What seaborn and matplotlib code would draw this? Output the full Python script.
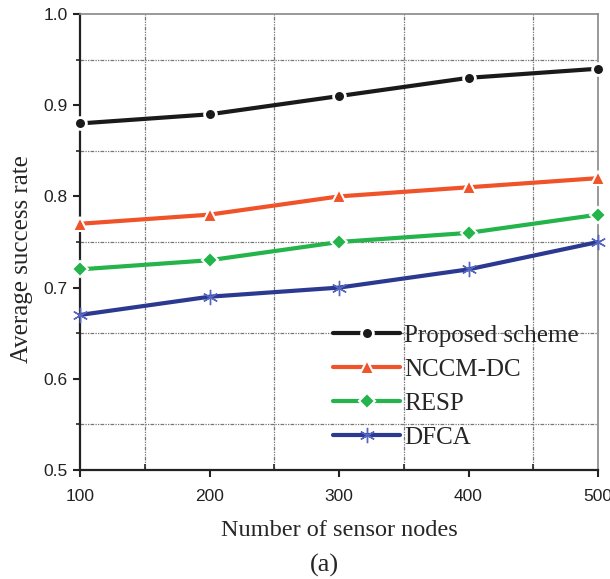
import matplotlib
matplotlib.use("Agg")
import matplotlib.pyplot as plt
import seaborn as sns
import pandas as pd
from matplotlib.ticker import MultipleLocator

nodes = [100, 200, 300, 400, 500]
proposed = [0.88, 0.89, 0.91, 0.93, 0.94]
nccm_dc = [0.77, 0.78, 0.80, 0.81, 0.82]
resp = [0.72, 0.73, 0.75, 0.76, 0.78]
dfca = [0.67, 0.69, 0.70, 0.72, 0.75]

series_names = ["Proposed scheme", "NCCM-DC", "RESP", "DFCA"]
series_vals = [proposed, nccm_dc, resp, dfca]
colors = ["#1a1a1a", "#f0522a", "#25b34b", "#2b3990"]
markers = ["o", "^", "D", "*"]

rows = []
for name, vals in zip(series_names, series_vals):
    for x, y in zip(nodes, vals):
        rows.append({"nodes": x, "rate": y, "scheme": name})
df = pd.DataFrame(rows)

sns.set_style("white")
plt.rcParams["font.family"] = ["Liberation Sans", "DejaVu Sans"]

fig = plt.figure(figsize=(6.10, 5.79), dpi=100)
ax = fig.add_axes([80/610, 1 - 470/579, 518/610, 456/579])

for name, c, m in zip(series_names, colors, markers):
    sub = df[df["scheme"] == name]
    if m == "*":
        kw = dict(marker=(6, 2, 0), markersize=11, markeredgecolor="#5566c0", markeredgewidth=1.0)
    elif m == "D":
        kw = dict(marker="D", markersize=8, markeredgecolor="white", markeredgewidth=1.5)
    elif m == "^":
        kw = dict(marker="^", markersize=10, markeredgecolor="white", markeredgewidth=1.5)
    else:
        kw = dict(marker="o", markersize=8.5, markeredgecolor="white", markeredgewidth=2)
    sns.lineplot(data=sub, x="nodes", y="rate", color=c, linewidth=3, label=name, ax=ax,
                 clip_on=False, zorder=3, **kw)

ax.set_xlim(100, 500)
ax.set_ylim(0.5, 1.0)
ax.xaxis.set_major_locator(MultipleLocator(100))
ax.xaxis.set_minor_locator(MultipleLocator(50))
ax.yaxis.set_minor_locator(MultipleLocator(0.05))
ax.set_yticks([0.5, 0.6, 0.7, 0.8, 0.9, 1.0])
ax.set_yticklabels(["0.5", "0.6", "0.7", "0.8", "0.9", "1.0"])

ax.grid(False)
for v in [150, 250, 350, 450]:
    ax.axvline(v, color="#777777", lw=0.9, ls=(0, (3, 1, 1, 1, 1, 1)), zorder=0)
for v in [0.55, 0.65, 0.75, 0.85, 0.95]:
    ax.axhline(v, color="#777777", lw=0.9, ls=(0, (3, 1, 1, 1, 1, 1)), zorder=0)

ax.tick_params(axis="both", which="major", direction="out", length=5, width=1.5,
               labelsize=12.5, colors="#222222", bottom=True, left=True)
ax.tick_params(axis="x", which="major", pad=9)
ax.tick_params(axis="y", which="major", pad=4)
ax.tick_params(axis="x", which="minor", direction="in", length=4, width=1.2, bottom=True)
ax.tick_params(axis="y", which="minor", direction="out", length=3, width=1.2, left=True)

for s in ["left", "bottom"]:
    ax.spines[s].set_color("#222222")
    ax.spines[s].set_linewidth(1.6)
for s in ["top", "right"]:
    ax.spines[s].set_color("#888888")
    ax.spines[s].set_linewidth(1.2)

ax.set_xlabel("Number of sensor nodes", family=["Liberation Serif"], fontsize=17.5, labelpad=11)
ax.set_ylabel("Average success rate", family=["Liberation Serif"], fontsize=18, labelpad=7)
ax.yaxis.set_label_coords(-0.09, 0.463)

leg = ax.legend(loc="upper left", bbox_to_anchor=(0.488, 0.32), frameon=False,
                prop={"family": "Liberation Serif", "size": 18},
                handlelength=2.7, handletextpad=0.15, labelspacing=0.46,
                borderaxespad=0, borderpad=0)

fig.text(0.5 + 19/610, 1 - 565/579, "(a)", ha="center", va="center",
         family="Liberation Serif", fontsize=19)

fig.savefig("out.png", dpi=100)
